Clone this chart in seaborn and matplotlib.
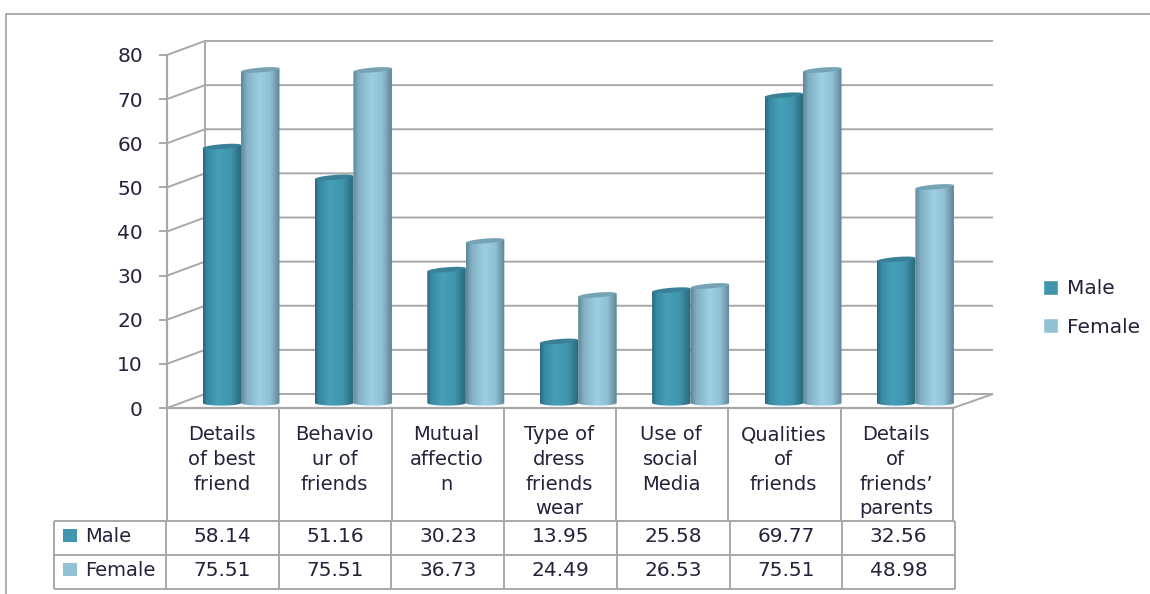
import numpy as np
import pandas as pd
import seaborn as sns
import matplotlib
matplotlib.use("Agg")
import matplotlib.pyplot as plt
from matplotlib.colors import LinearSegmentedColormap
from matplotlib.path import Path
from matplotlib.patches import Rectangle

categories = ["Details\nof best\nfriend", "Behavio\nur of\nfriends", "Mutual\naffectio\nn",
              "Type of\ndress\nfriends\nwear", "Use of\nsocial\nMedia", "Qualities\nof\nfriends",
              "Details\nof\nfriends’\nparents"]
male = [58.14, 51.16, 30.23, 13.95, 25.58, 69.77, 32.56]
female = [75.51, 75.51, 36.73, 24.49, 26.53, 75.51, 48.98]
yticks = [0, 10, 20, 30, 40, 50, 60, 70, 80]

W, H = 1150, 594
GRID = "#a8a8a8"
TEXT = "#23233a"
FS = 14
MALE, FEMALE = "#3f96ad", "#93c2d5"

sns.set_theme(style="white")
plt.rcParams["font.family"] = "DejaVu Sans"
fig = plt.figure(figsize=(W / 100, H / 100), dpi=100, facecolor="white")


def px_axes(left, right, top, bottom, **kw):
    return fig.add_axes([left / W, 1 - bottom / H, (right - left) / W, (bottom - top) / H], **kw)


# Chrome layer in pixel units: outer border, back wall, table rules and texts
bg = px_axes(0, W, 0, H, zorder=0)
bg.set_xlim(0, W)
bg.set_ylim(H, 0)
bg.axis("off")
line = dict(color=GRID, lw=1.4, solid_capstyle="butt")
bg.plot([6, 6, W], [H, 14, 14], color="#a0a0a0", lw=1.2)

FRONT_L, FRONT_R, Y0, Y80 = 167, 953, 408, 55
DX, DY = 38, -14
WALL_R = 993
to_px = lambda v: Y0 - v * (Y0 - Y80) / 80
for v in yticks:
    y = to_px(v)
    bg.plot([FRONT_L, FRONT_L + DX, WALL_R], [y, y + DY, y + DY], **line)
bg.plot([FRONT_L + DX] * 2, [to_px(80) + DY, to_px(0) + DY], **line)
bg.plot([FRONT_R, WALL_R], [Y0, Y0 + DY], **line)

# Category cells under the plot
cat_edges = np.linspace(FRONT_L, FRONT_R, len(categories) + 1)
for x in cat_edges:
    bg.plot([x, x], [Y0, 521], **line)
for i, label in enumerate(categories):
    cx = (cat_edges[i] + cat_edges[i + 1]) / 2 - 1
    for j, part in enumerate(label.split("\n")):
        bg.text(cx, 435 + 24.6 * j, part, ha="center", va="center", fontsize=FS, color=TEXT)

# Data table
col_edges = np.r_[54, np.linspace(166, 955, len(categories) + 1)]
row_edges = [521, 555, 589]
for x in col_edges:
    bg.plot([x, x], [row_edges[0], row_edges[-1]], **line)
for y in row_edges:
    bg.plot([col_edges[0], col_edges[-1]], [y, y], **line)
for r, (name, vals, col) in enumerate([("Male", male, MALE), ("Female", female, FEMALE)]):
    yc = (row_edges[r] + row_edges[r + 1]) / 2
    bg.add_patch(Rectangle((63, yc - 9), 14, 13, color=col, lw=0))
    bg.text(85, yc - 2, name, ha="left", va="center", fontsize=FS, color=TEXT)
    for c, v in enumerate(vals):
        bg.text((col_edges[c + 1] + col_edges[c + 2]) / 2, yc - 1, f"{v:.2f}",
                ha="center", va="center", fontsize=14.5, color=TEXT)

# Front axis with the value scale
front = px_axes(FRONT_L, FRONT_R, Y80, Y0, zorder=1)
front.patch.set_alpha(0)
front.set_xlim(0, 1)
front.set_ylim(0, 80)
front.set_xticks([])
front.set_yticks(yticks)
front.tick_params(axis="y", left=True, length=5.8, width=1.4, color=GRID, pad=11.5,
                  labelsize=14.5, labelcolor=TEXT)
sns.despine(ax=front, top=True, right=True)
for s in ("left", "bottom"):
    front.spines[s].set_color(GRID)
    front.spines[s].set_linewidth(1.6)

# Bars
PX_PER_UNIT = 4.41
BASE = 403
STEP = 112.4
YMIN = -1
ax = px_axes(241 - STEP / 2, 241 + 6.5 * STEP, BASE - 80 * PX_PER_UNIT,
             BASE - YMIN * PX_PER_UNIT, zorder=2)
ax.patch.set_alpha(0)
df = pd.DataFrame({
    "category": categories * 2,
    "value": male + female,
    "series": ["Male"] * len(male) + ["Female"] * len(female),
})
sns.barplot(data=df, x="category", y="value", hue="series", palette=[MALE, FEMALE],
            width=0.685, gap=0, dodge=True, ax=ax, saturation=1)

shades = {
    0: (LinearSegmentedColormap.from_list("m", [(0, "#2b6a7e"), (.1, "#388aa3"), (.38, "#479fb8"),
                                                (.72, "#4095ae"), (.92, "#317388"), (1, "#2c6a7d")]),
        "#3a8198"),
    1: (LinearSegmentedColormap.from_list("f", [(0, "#5f8a9b"), (.14, "#84b0c3"), (.48, "#9dd0e4"),
                                                (.76, "#90c0d4"), (.93, "#6d97a8"), (1, "#5f8494")]),
        "#76a3b4"),
}
ramp = np.linspace(0, 1, 40)[None, :]
t = np.linspace(0, np.pi, 48)
CAP, TILT, FOOT = 2.4 / PX_PER_UNIT, 1.6 / PX_PER_UNIT, 2.6 / PX_PER_UNIT
for s, container in enumerate(ax.containers):
    cmap, cap_col = shades[s]
    z = 3 + s
    for bar in container:
        x0, w, h = bar.get_x(), bar.get_width(), bar.get_height()
        cx = x0 + w / 2
        bar.set_visible(False)
        # Rounded foot at the bottom, shoulders at the value height
        foot = np.c_[cx - w / 2 * np.cos(t), -FOOT * np.sin(t)]
        pts = np.vstack([[x0, h - TILT], foot, [x0 + w, h + TILT], [x0, h - TILT]])
        im = ax.imshow(ramp, cmap=cmap, extent=(x0, x0 + w, -FOOT, h + TILT), aspect="auto",
                       zorder=z, interpolation="bilinear")
        im.set_clip_path(Path(pts), transform=ax.transData)
        # Tilted elliptical cap on top of the cylinder
        tt = np.linspace(0, 2 * np.pi, 64)
        ax.fill(cx + w / 2 * np.cos(tt), h + CAP * np.sin(tt) + TILT * np.cos(tt),
                color=cap_col, lw=0, zorder=z + 0.5, clip_on=False)
ax.set_xlim(-0.5, 6.5)
ax.set_ylim(YMIN, 80)

sns.move_legend(ax, "center left", bbox_to_anchor=(1043 / W, 1 - 308 / H),
                bbox_transform=fig.transFigure, frameon=False, title=None, fontsize=14.5,
                handlelength=0.72, handleheight=0.72, handletextpad=0.45, labelspacing=0.95,
                borderpad=0, borderaxespad=0, labelcolor=TEXT)
ax.set_axis_off()

fig.savefig("out.png", dpi=100)
